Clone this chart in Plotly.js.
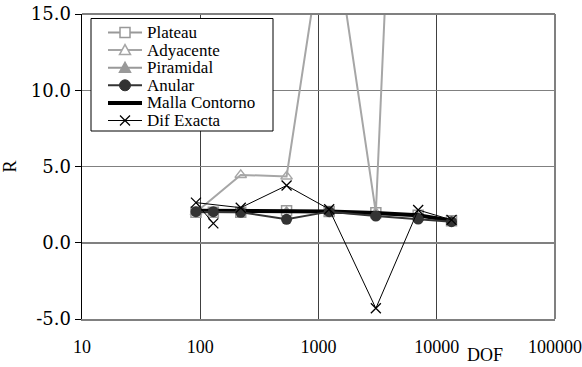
<!DOCTYPE html>
<html>
<head>
<meta charset="utf-8">
<script src="https://cdn.plot.ly/plotly-3.0.1.min.js"></script>
<style>html,body{margin:0;padding:0;background:#fff}#chart{width:582px;height:367px}</style>
</head>
<body>
<div id="chart"></div>
<script>
var dof = [92, 129, 220, 537, 1231, 3055, 6966, 13335];
var plateau = [2.0, 2.0, 2.0, 2.1, 2.05, 1.97, 1.8, 1.45];
var adyacente = [2.0, null, 4.45, 4.35, 22.7, 1.97, 65, 60];
var piramidal = [2.0, 2.0, 2.05, 2.1, 2.05, 1.9, 1.75, 1.45];
var anular = [2.04, 2.04, 2.0, 1.54, 2.04, 1.75, 1.55, 1.38];
var mallaContorno = [2.1, 2.1, 2.1, 2.1, 2.05, 1.95, 1.8, 1.45];
var difDof = [129, 92, 220, 537, 1231, 3055, 6966, 13335];
var difExacta = [1.27, 2.63, 2.3, 3.75, 2.2, -4.3, 2.15, 1.5];
var xTicks = [10, 100, 1000, 10000, 100000];
var xTickText = ['10', '100', '1000', '10000', '100000'];
var yTicks = [-5, 0, 5, 10, 15];
var yTickText = ['-5.0', '0.0', '5.0', '10.0', '15.0'];
var legendNames = ['Plateau', 'Adyacente', 'Piramidal', 'Anular', 'Malla Contorno', 'Dif Exacta'];

var fx = 'Liberation Serif';
var fy = 'DejaVu Serif';
var fl = 'Times New Roman';

var styles = {
  'Plateau': {line:{color:'#999999', width:2}, marker:{symbol:'square-open', size:10, color:'#999999', line:{width:1.5}}},
  'Adyacente': {line:{color:'#A6A6A6', width:2}, marker:{symbol:'triangle-up-open', size:10, color:'#A6A6A6', line:{width:1.5}}},
  'Piramidal': {line:{color:'#999999', width:2}, marker:{symbol:'triangle-up', size:10, color:'#999999'}},
  'Malla Contorno': {line:{color:'#000000', width:4}},
  'Anular': {line:{color:'#333333', width:2}, marker:{symbol:'circle', size:11, color:'#333333'}},
  'Dif Exacta': {line:{color:'#000000', width:1}, marker:{symbol:'x-thin-open', size:10, color:'#000000', line:{width:1.3, color:'#000000'}}}
};
function tr(name, x, y, extra) {
  var t = {name:name, x:x, y:y, mode: styles[name].marker ? 'lines+markers' : 'lines',
           line:styles[name].line, showlegend:false};
  if (styles[name].marker) t.marker = styles[name].marker;
  for (var k in (extra||{})) t[k] = extra[k];
  return t;
}
var traces = [
  tr('Plateau', dof, plateau),
  tr('Adyacente', dof, adyacente, {connectgaps:true}),
  tr('Piramidal', dof, piramidal),
  tr('Malla Contorno', dof, mallaContorno),
  tr('Anular', dof, anular),
  tr('Dif Exacta', difDof, difExacta)
];

var L = 82, R = 555, T = 14, B = 319;
function px(v){ return (v - L) / (R - L); }
function py(v){ return (B - v) / (B - T); }
var shapes = [
  {type:'line', xref:'paper', yref:'paper', x0:1, x1:1, y0:0, y1:1, line:{color:'#808080', width:2}},
  {type:'line', xref:'paper', yref:'paper', x0:0, x1:1, y0:1, y1:1, line:{color:'#808080', width:2}},
  {type:'rect', xref:'paper', yref:'paper', layer:'above', x0:px(91), x1:px(273), y0:py(18.5), y1:py(131),
   fillcolor:'#ffffff', line:{color:'#000000', width:1}}
];
var annotations = [];
var lx0 = 108, lx1 = 142, lc = 125, tx = 145;
legendNames.forEach(function(name, i){
  var cy = 32.5 + 17.6 * i;
  var st = styles[name];
  shapes.push({type:'line', xref:'paper', yref:'paper', layer:'above', x0:px(lx0), x1:px(lx1), y0:py(cy), y1:py(cy),
               line:{color:st.line.color, width:st.line.width}});
  var m = st.marker;
  if (m) {
    var s = 5;
    if (m.symbol === 'square-open') {
      shapes.push({type:'rect', xref:'paper', yref:'paper', layer:'above', x0:px(lc-s), x1:px(lc+s), y0:py(cy-s), y1:py(cy+s),
                   fillcolor:'#ffffff', line:{color:m.color, width:1.5}});
    } else if (m.symbol.indexOf('triangle') === 0) {
      var p = 'M' + px(lc-5.5) + ',' + py(cy+4.5) + ' L' + px(lc+5.5) + ',' + py(cy+4.5) + ' L' + px(lc) + ',' + py(cy-5.5) + ' Z';
      shapes.push({type:'path', xref:'paper', yref:'paper', layer:'above', path:p,
                   fillcolor: m.symbol === 'triangle-up' ? m.color : '#ffffff', line:{color:m.color, width:1.5}});
    } else if (m.symbol === 'circle') {
      shapes.push({type:'circle', xref:'paper', yref:'paper', layer:'above', x0:px(lc-5.5), x1:px(lc+5.5), y0:py(cy-5.5), y1:py(cy+5.5),
                   fillcolor:m.color, line:{color:m.color, width:1}});
    } else if (m.symbol === 'x-thin-open') {
      shapes.push({type:'line', xref:'paper', yref:'paper', layer:'above', x0:px(lc-5), x1:px(lc+5), y0:py(cy-5), y1:py(cy+5), line:{color:'#000', width:1.3}});
      shapes.push({type:'line', xref:'paper', yref:'paper', layer:'above', x0:px(lc-5), x1:px(lc+5), y0:py(cy+5), y1:py(cy-5), line:{color:'#000', width:1.3}});
    }
  }
  annotations.push({text:name, xref:'paper', yref:'paper', x:px(tx), y:py(cy), xanchor:'left', yanchor:'middle',
                    showarrow:false, font:{family:fl, size:17, color:'#000'}});
});
annotations.push({text:'DOF', xref:'paper', yref:'paper', x:px(485), y:py(355), xanchor:'center', yanchor:'middle', showarrow:false,
                  font:{family:fl, size:18, color:'#000'}});

var layout = {
  width:582, height:367,
  margin:{l:L, r:582-R, t:T, b:367-B},
  paper_bgcolor:'#ffffff', plot_bgcolor:'#ffffff',
  font:{family:fl, size:18, color:'#000'},
  showlegend:false,
  xaxis:{type:'log', range:[1, 5], tickvals:xTicks, ticktext:xTickText,
    showgrid:true, gridcolor:'#404040', gridwidth:1,
    showline:true, linecolor:'#808080', linewidth:2,
    ticks:'', ticklabelstandoff:10, zeroline:false,
    tickfont:{family:fx, size:18, color:'#000'}},
  yaxis:{range:[-5, 15], tickvals:yTicks, ticktext:yTickText,
    showgrid:true, gridcolor:'#808080', gridwidth:1.5,
    showline:true, linecolor:'#000000', linewidth:1.5,
    ticks:'outside', ticklen:6, tickcolor:'#000', zeroline:false,
    title:{text:'R', standoff:16, font:{family:fl, size:18, color:'#000'}},
    tickfont:{family:fy, size:18, color:'#000'}},
  shapes:shapes,
  annotations:annotations
};
Plotly.newPlot('chart', traces, layout, {displayModeBar:false, staticPlot:true});
</script>
</body>
</html>
